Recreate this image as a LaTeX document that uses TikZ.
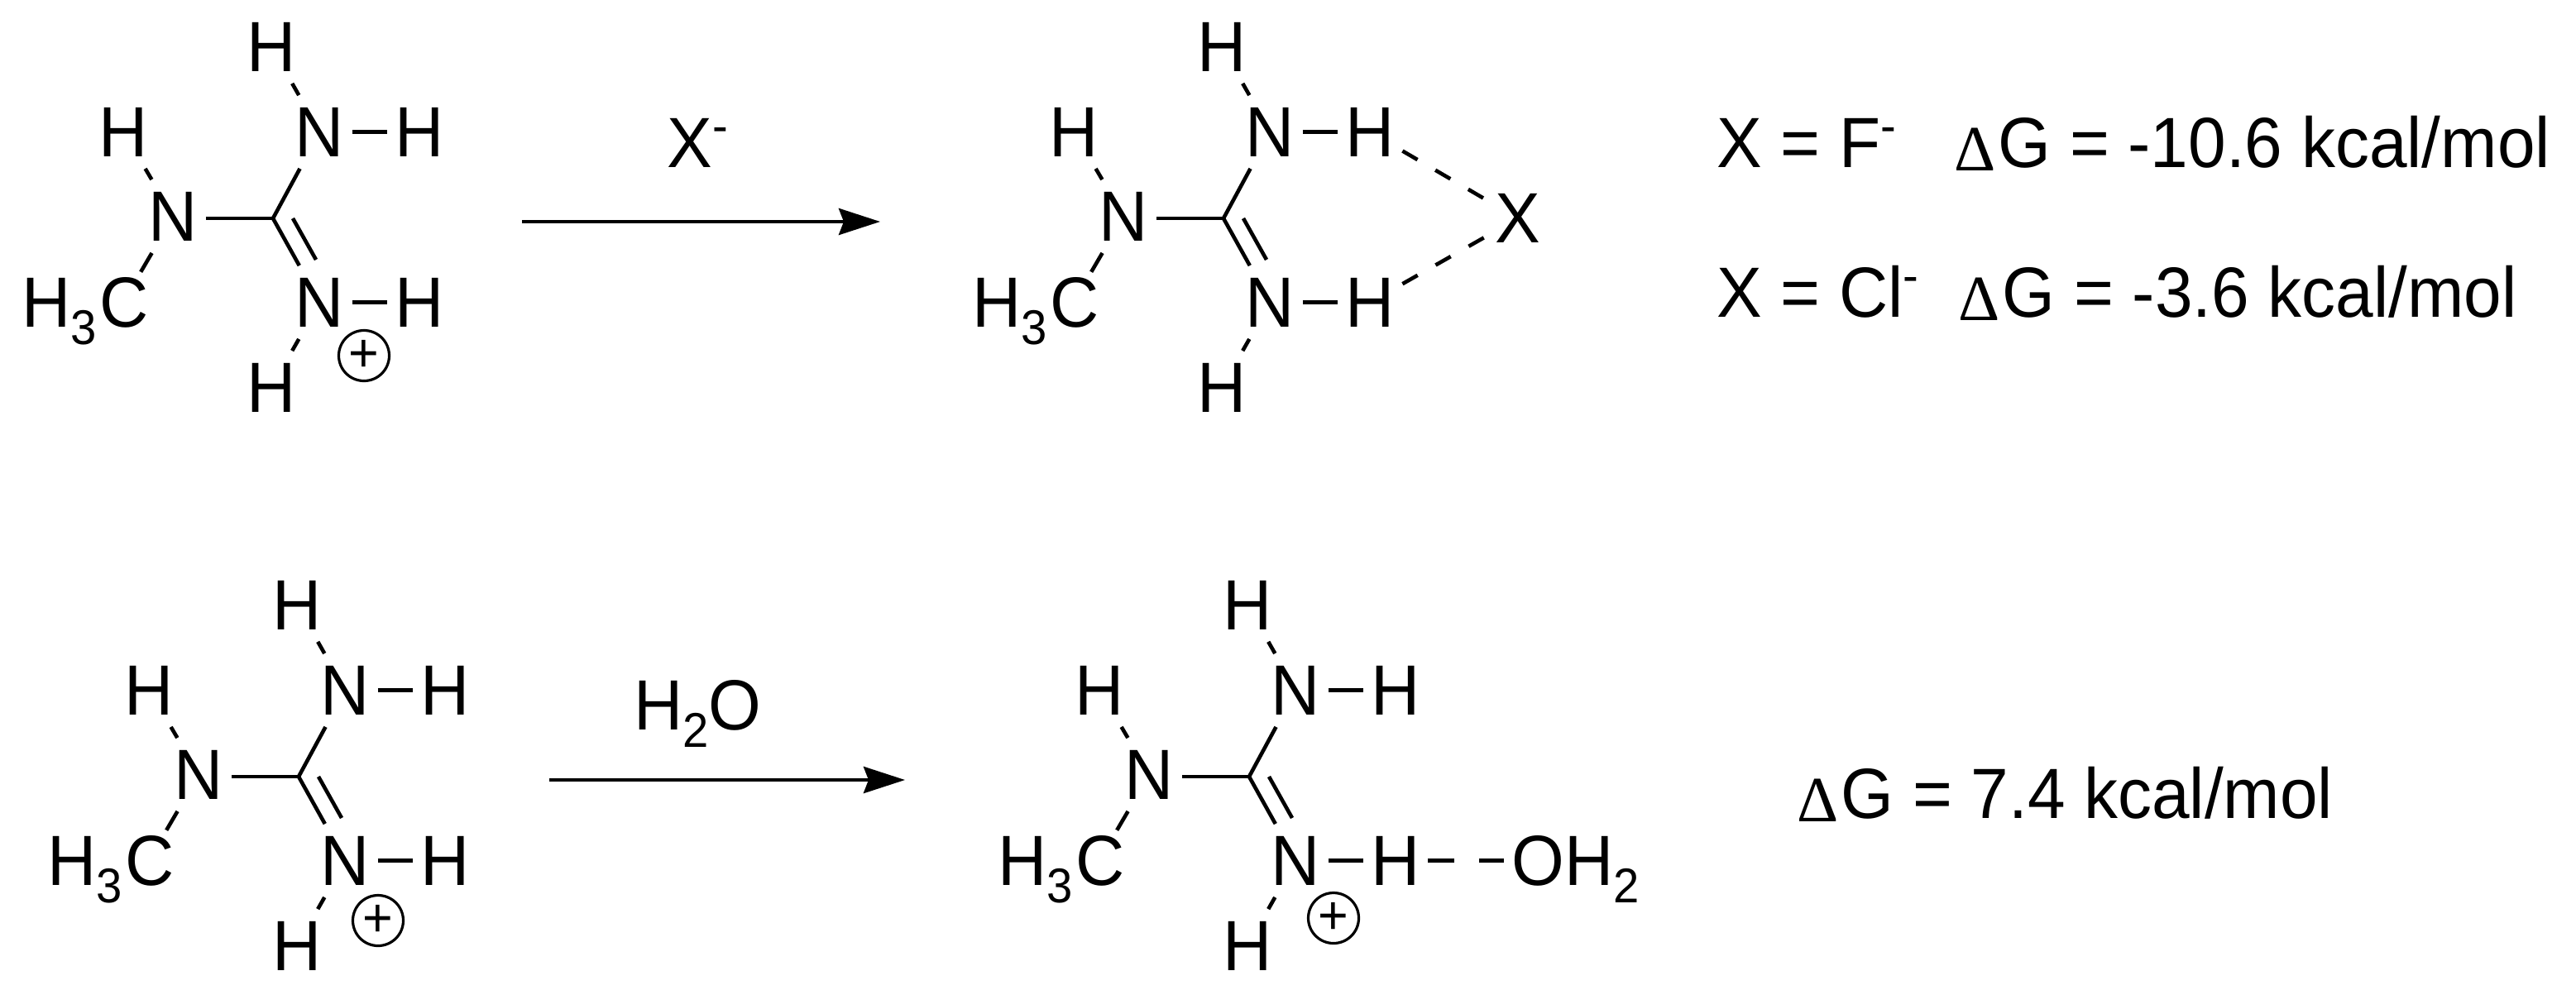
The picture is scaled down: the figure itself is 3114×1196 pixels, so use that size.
\documentclass[tikz,border=0pt]{standalone}
\usepackage{fontspec}
\setmainfont[FakeStretch=0.953]{Liberation Sans}
\newfontfamily\deltafont{Liberation Serif}
\usetikzlibrary{arrows.meta}
\newcommand\lowidx[1]{\raisebox{-10.5pt}{\fontsize{29.5}{29.5}\selectfont #1}}
\newcommand\upminus{\raisebox{15pt}{\fontsize{29.5}{29.5}\selectfont -}}
\newcommand\dG{\raisebox{-2.2pt}{\fontsize{39}{39}\deltafont Δ}\kern1.5pt G}
\tikzset{
  every node/.style={font=\fontsize{43}{43}\selectfont, inner sep=0pt},
  atom/.style={minimum width=39pt, minimum height=44pt, text height=29.5pt, text depth=0pt},
  txt/.style={anchor=base west},
  bond/.style={line width=2.3pt, line cap=butt},
  hbond/.style={line width=2.3pt, dash pattern=on 10.5pt off 12.5pt},
  wbond/.style={line width=2.3pt, dash pattern=on 16pt off 15pt},
  rxn/.style={line width=2.3pt, -{Stealth[length=25pt, width=16pt, inset=3pt]}},
  charge/.style={circle, draw, line width=1.6pt, minimum size=30.5pt, font=\fontsize{33}{33}\selectfont}
}
\newcommand\guanidinium[3]{%
  \begin{scope}[shift={(#2,#3)}]
    \coordinate (#1c) at (330,264);
    \node[atom] (#1nl) at (209.5,261.5) {N};
    \node[atom] (#1hl) at (149.5,159.5) {H};
    \node[atom] (#1nt) at (386.5,159.5) {N};
    \node[atom] (#1ht) at (328,56.5) {H};
    \node[atom] (#1hr) at (507,159.5) {H};
    \node[atom] (#1nb) at (386.5,365.5) {N};
    \node[atom] (#1hs) at (507,365.5) {H};
    \node[atom] (#1hb) at (328,468.5) {H};
    \node[txt] (#1me) at (26,395) {H\lowidx{3}\kern2pt C};
    \coordinate (#1mec) at (149,365);
    \coordinate (#1d1) at (354,264);
    \coordinate (#1d2) at (382,314);
    \draw[bond] (#1nl.east |- #1c) -- (#1c);
    \draw[bond] (#1c) -- (#1nt);
    \draw[bond] (#1c) -- (#1nb);
    \draw[bond] (#1d1) -- (#1d2);
    \draw[bond] (#1nt) -- (#1hr);
    \draw[bond] (#1nb) -- (#1hs);
    \draw[bond] (#1ht) -- (#1nt);
    \draw[bond] (#1hl) -- (#1nl);
    \draw[bond] (#1nb) -- (#1hb);
    \draw[bond, shorten >=21pt] (#1nl) -- (#1mec);
  \end{scope}}
\begin{document}
\begin{tikzpicture}[x=0.5pt,y=-0.5pt]
\useasboundingbox (0,0) rectangle (3114,1196);
% top row
\guanidinium{a}{0}{0}
\node[charge] (aplus) at (440,430) {+};
\coordinate (r1s) at (631,268);
\coordinate (r1e) at (1064,268);
\draw[rxn] (r1s) -- (r1e);
\node[txt] (r1l) at (806,202) {X\upminus};
\guanidinium{b}{1149}{0}
\node[atom] (bx) at (1835,264) {X};
\draw[hbond] (bhr) -- (bx);
\draw[hbond] (bhs) -- (bx);
\node[txt] (t1a) at (2075,202) {X = F\upminus};
\node[txt] (t1b) at (2362,202) {\dG{} = -10.6 kcal/mol};
\node[txt] (t2a) at (2075,383) {X = Cl\upminus};
\node[txt] (t2b) at (2367,383) {\dG{} = -3.6 kcal/mol};
% bottom row
\guanidinium{c}{31}{675}
\node[charge] (cplus) at (457,1113) {+};
\coordinate (r2s) at (664,943);
\coordinate (r2e) at (1094,943);
\draw[rxn] (r2s) -- (r2e);
\node[txt] (r2l) at (766,882) {H\lowidx{2}O};
\guanidinium{d}{1180}{675}
\node[charge] (dplus) at (1612,1110) {+};
\node[txt, inner xsep=4.5pt] (dw) at (1818,1070) {OH\lowidx{2}};
\draw[wbond] (dhs) -- (dhs -| dw.west);
\node[txt] (t3) at (2172,989) {\dG{} = 7.4 kcal/mol};
\end{tikzpicture}
\end{document}
